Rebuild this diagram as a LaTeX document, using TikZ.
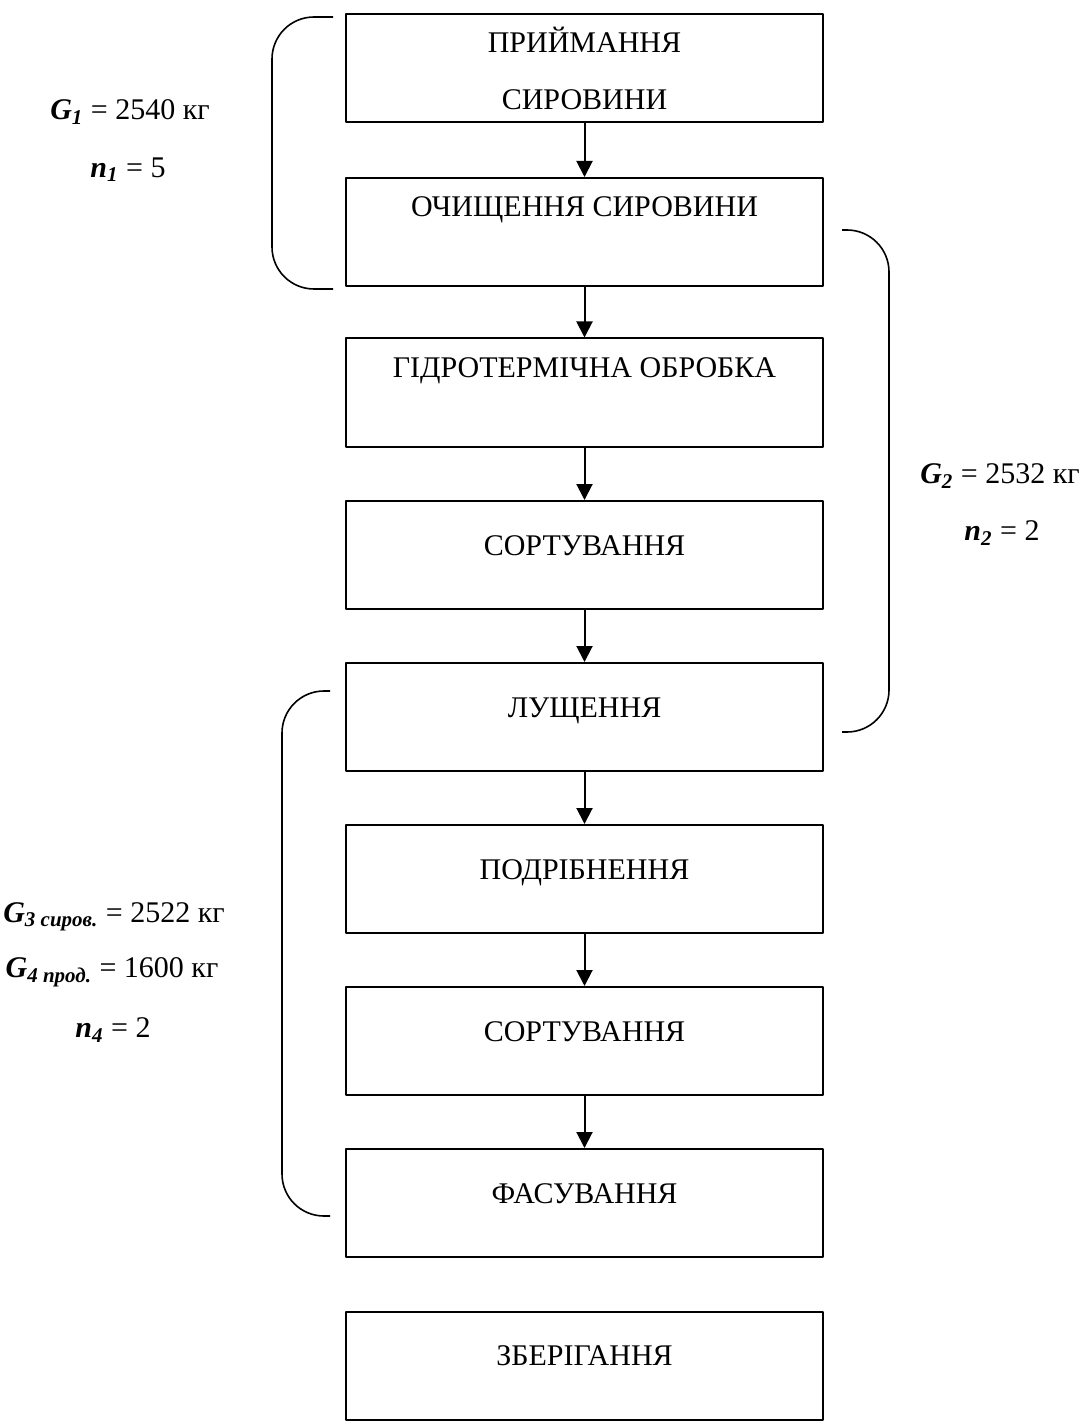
\documentclass[tikz,border=0pt]{standalone}
\usepackage{fontspec}
\setmainfont{Liberation Serif}
\usetikzlibrary{arrows.meta}
\newcommand{\bi}[1]{\textbf{\textit{#1}}}

\begin{document}
\begin{tikzpicture}[x=0.5pt, y=-0.5pt, >={Triangle[length=8pt,width=8pt]}, line join=round,
	font=\fontsize{15}{28.5}\selectfont,
	stage/.style={draw, line width=1pt, minimum width=238.5pt, minimum height=54pt, inner sep=0pt,
		text height=9pt, text depth=9pt},
	stagetop/.style={stage, text height=10pt, text depth=25pt},
	stagetwo/.style={draw, line width=1pt, minimum width=238.5pt, minimum height=54pt, inner sep=0pt, align=center},
	flow/.style={->, line width=1pt},
	brace/.style={line width=0.8pt, rounded corners=21pt},
	note/.style={align=center}]

\useasboundingbox (0,0) rectangle (1080,1428);

%========================
% Stages of the process
%========================
\node[stagetwo] (s1) at (584.5,68)     {ПРИЙМАННЯ\\СИРОВИНИ};
\node[stagetop] (s2) at (584.5,232)    {ОЧИЩЕННЯ СИРОВИНИ};
\node[stagetop] (s3) at (584.5,392.5)  {ГІДРОТЕРМІЧНА ОБРОБКА};
\node[stage]    (s4) at (584.5,555)    {СОРТУВАННЯ};
\node[stage]    (s5) at (584.5,717)    {ЛУЩЕННЯ};
\node[stage]    (s6) at (584.5,879)    {ПОДРІБНЕННЯ};
\node[stage]    (s7) at (584.5,1041)   {СОРТУВАННЯ};
\node[stage]    (s8) at (584.5,1203)   {ФАСУВАННЯ};
\node[stage]    (s9) at (584.5,1365.5) {ЗБЕРІГАННЯ};

% flow arrows
\draw[flow] (s1) -- (s2);
\draw[flow] (s2) -- (s3);
\draw[flow] (s3) -- (s4);
\draw[flow] (s4) -- (s5);
\draw[flow] (s5) -- (s6);
\draw[flow] (s6) -- (s7);
\draw[flow] (s7) -- (s8);

%========================
% Brackets and balances
%========================
% left, stages 1-2
\draw[brace] (333,17) -| (272,150) |- (333,289);
\node[note] (g1) at (130,112) {\bi{G\textsubscript{1}} = 2540 кг};
\node[note] (n1) at (128,170) {\bi{n\textsubscript{1}} = 5};

% right, stages 2-5
\draw[brace] (842,230) -| (889,480) |- (842,732);
\node[note] (g2) at (1000,476) {\bi{G\textsubscript{2}} = 2532 кг};
\node[note] (n2) at (1002,533) {\bi{n\textsubscript{2}} = 2};

% left, stages 5-8
\draw[brace] (330,691) -| (282,950) |- (330,1216);
\node[note] (g3) at (114,917)  {\bi{G\textsubscript{3 сиров.}} = 2522 кг};
\node[note] (g4) at (112,972)  {\bi{G\textsubscript{4 прод.}} = 1600 кг};
\node[note] (n4) at (113,1030) {\bi{n\textsubscript{4}} = 2};

\end{tikzpicture}
\end{document}
